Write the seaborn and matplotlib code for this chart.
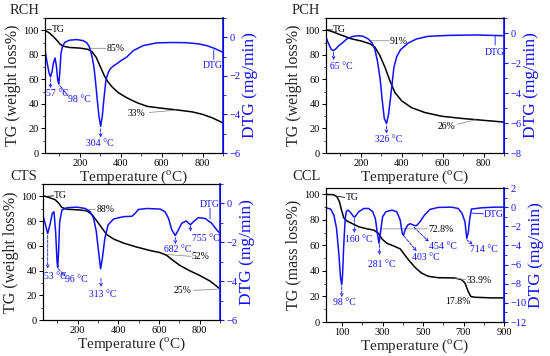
import numpy as np
import pandas as pd
import matplotlib
matplotlib.use('Agg')
import matplotlib.pyplot as plt
import seaborn as sns
from matplotlib.ticker import MultipleLocator, AutoMinorLocator

# ---- data ----
rch_tg_t = [30, 50, 70, 90, 105, 120, 150, 200, 240, 260, 280, 300, 320, 340, 360, 390, 430, 480, 530, 600, 680, 750, 800, 850, 900]
rch_tg = [100, 98, 95, 91.5, 88.5, 87, 86, 85.5, 84.5, 82.5, 78, 70.5, 63, 57.5, 53.5, 49, 45, 41, 38, 36.5, 35, 33.5, 31.5, 28.5, 24.5]
rch_dtg_t = [30, 40, 50, 57, 64, 72, 79, 86, 92, 97, 102, 108, 116, 128, 150, 185, 215, 233, 245, 253, 262, 270, 278, 286,
             294, 302, 310, 318, 328, 340, 350, 365, 380, 400, 429, 462, 510, 576, 650, 720, 780, 820, 860, 900]
rch_dtg = [-0.65, -1.3, -1.85, -2.05, -1.8, -1.3, -1.07, -1.5, -2.2, -2.42, -1.9, -0.85, -0.45, -0.25, -0.15, -0.12, -0.17,
           -0.27, -0.45, -0.7, -1.1, -1.6, -2.4, -3.3, -4.1, -4.62, -4.1, -3.2, -2.2, -1.8, -1.62, -1.48, -1.38, -1.22,
           -1.03, -0.69, -0.43, -0.29, -0.27, -0.28, -0.34, -0.43, -0.58, -0.78]

pch_tg_t = [30, 66, 106, 155, 204, 245, 269, 293, 318, 342, 367, 400, 448, 513, 594, 692, 789, 900]
pch_tg = [100.5, 98.6, 96, 93, 91.2, 89, 86.3, 79.5, 70, 59, 49.3, 42.5, 37, 33, 30, 28.2, 26.8, 25.2]
pch_dtg_t = [30, 41, 55, 65, 77, 92, 106, 131, 163, 188, 212, 237, 256, 269, 282, 295, 305, 315, 326, 336, 349, 362,
             375, 395, 432, 472, 529, 627, 757, 900]
pch_dtg = [-0.27, -0.67, -1.07, -1.18, -1.07, -0.85, -0.71, -0.4, -0.22, -0.18, -0.22, -0.4, -0.67, -1.1, -1.9, -3.1,
           -4.5, -5.7, -6.04, -5.4, -3.9, -2.3, -1.6, -1.1, -0.67, -0.4, -0.22, -0.16, -0.13, -0.18]

cts_tg_t = [30, 58, 90, 107, 123, 148, 213, 246, 270, 295, 319, 344, 377, 426, 491, 557, 606, 638, 671, 704, 753, 802, 851, 900]
cts_tg = [100.5, 99.2, 97.3, 94.5, 91, 89.6, 89, 88.2, 85.5, 80, 74.5, 69, 65.5, 62.2, 59, 56.2, 54.5, 52.3, 48, 44,
          39.7, 35.9, 31.5, 25.2]
cts_dtg_t = [30, 42, 53, 64, 76, 84, 92, 99, 102, 106, 112, 123, 148, 197, 238, 262, 279, 292, 303, 313, 322, 334, 350,
             377, 426, 467, 483, 499, 541, 606, 630, 647, 663, 680, 691, 712, 734, 755, 769, 794, 826, 859, 884, 900]
cts_dtg = [-0.63, -1.1, -1.55, -1.1, -0.5, -0.43, -1.45, -2.98, -3.29, -2.64, -0.94, -0.34, -0.22, -0.19, -0.26, -0.43,
           -0.77, -1.45, -2.47, -3.36, -2.81, -1.79, -1.1, -0.8, -0.68, -0.66, -0.51, -0.31, -0.26, -0.29, -0.43, -0.77,
           -1.36, -1.65, -1.45, -1.02, -0.9, -1.1, -0.94, -0.73, -0.77, -1.02, -1.36, -1.53]

ccl_tg_t = [21, 59, 75, 87, 97, 108, 125, 149, 182, 215, 256, 280, 297, 321, 354, 387, 403, 428, 461, 493, 526, 575,
            657, 690, 707, 723, 736, 756, 838, 900]
ccl_tg = [100, 99.7, 98, 94, 87.6, 81.6, 79, 77.2, 74.6, 73.3, 72, 69.4, 65, 61.7, 59.6, 57.3, 53.9, 48.7, 42.7, 38.3,
          35.8, 34.7, 34.5, 33.2, 30.6, 24, 20, 19.4, 18.9, 18.9]
ccl_dtg_t = [21, 43, 59, 72, 84, 92, 98, 102, 108, 115, 121, 130, 143, 157, 162, 182, 207, 231, 251, 264, 274, 282, 290,
             300, 316, 346, 370, 387, 397, 403, 411, 424, 436, 452, 460, 469, 485, 507, 534, 575, 641, 674, 693, 707,
             716, 723, 731, 739, 789, 854, 900]
ccl_dtg = [-0.07, -0.2, -0.83, -2.2, -5, -7.4, -8.1, -7.06, -3.9, -1.2, -0.42, -0.31, -0.6, -1.0, -1.04, -0.48, -0.14,
           -0.14, -0.48, -1.18, -2.73, -3.77, -2.56, -1.0, -0.48, -0.31, -0.48, -1.35, -2.73, -2.95, -2.39, -1.87, -1.73,
           -1.87, -1.94, -1.9, -1.52, -0.83, -0.24, -0.03, 0, -0.14, -0.66, -1.52, -3.25, -2.73, -1.18, -0.2, -0.07,
           0, 0]

BLUE = '#1010ff'
GREY = '#909090'

sns.set_style('ticks')
plt.rcParams['font.family'] = ['Liberation Serif', 'DejaVu Serif']
plt.rcParams['mathtext.fontset'] = 'custom'
plt.rcParams['mathtext.rm'] = 'Liberation Serif'
plt.rcParams['axes.linewidth'] = 0.8

fig = plt.figure(figsize=(5.5, 3.56), dpi=100)


def panel(rect, t_tg, tg, t_dtg, dtg, xlim, xticks, tg_max, dtg_lim, dtg_step, ylabel):
    ax = fig.add_axes(rect)
    sns.lineplot(x=t_tg, y=tg, ax=ax, color='black', lw=1.1, estimator=None, sort=False)
    ax2 = ax.twinx()
    sns.lineplot(x=t_dtg, y=dtg, ax=ax2, color=BLUE, lw=1.1, estimator=None, sort=False)
    ax.set_xlim(*xlim)
    ax.set_xticks(xticks)
    ax.xaxis.set_minor_locator(AutoMinorLocator(2))
    ax.set_ylim(0, tg_max)
    ax.yaxis.set_major_locator(MultipleLocator(20))
    ax.yaxis.set_minor_locator(MultipleLocator(10))
    ax2.set_ylim(*dtg_lim)
    ax2.yaxis.set_major_locator(MultipleLocator(dtg_step))
    ax2.yaxis.set_minor_locator(MultipleLocator(dtg_step / 2))
    for a in (ax, ax2):
        for s in a.spines.values():
            s.set_color('black')
            s.set_linewidth(0.8)
    ax2.spines['right'].set_color(BLUE)
    ax2.spines['right'].set_linewidth(1.2)
    ax.tick_params(which='major', direction='out', length=3, width=0.7, labelsize=7.5, pad=1.5, colors='black')
    ax.tick_params(which='minor', direction='out', length=1.8, width=0.6)
    ax2.tick_params(which='major', direction='out', length=3, width=0.8, labelsize=7.5, pad=1.5, colors=BLUE)
    ax2.tick_params(which='minor', direction='out', length=1.8, width=0.6, colors=BLUE)
    ax.set_xlabel(r'Temperature ($^{\mathrm{o}}$C)', fontsize=11, labelpad=0)
    ax.set_ylabel(ylabel, fontsize=11.5, labelpad=2)
    ax2.set_ylabel('DTG (mg/min)', fontsize=12.5, color=BLUE, labelpad=1)
    return ax, ax2


def lead(ax, p0, p1, color=GREY):
    ax.annotate('', xy=p1, xytext=p0, arrowprops=dict(arrowstyle='-', color=color, lw=0.6,
                                                      shrinkA=0, shrinkB=0))


def peak(ax, p0, p1):
    ax.annotate('', xy=p1, xytext=p0, arrowprops=dict(arrowstyle='->', color=BLUE, lw=0.6, ls='--',
                                                      mutation_scale=5, shrinkA=0, shrinkB=0))


def lab(ax, x, y, s, color='black', ha='left'):
    ax.text(x, y, s, fontsize=7, color=color, ha=ha, va='center')


# ---- RCH ----
ax, ax2 = panel([0.0818, 0.5702, 0.3236, 0.3792], rch_tg_t, rch_tg, rch_dtg_t, rch_dtg,
                (30, 900), [200, 400, 600, 800], 110, (-6, 1), 2, 'TG (weight loss%)')
lead(ax, (40, 100.5), (62, 100.5), 'black'); lab(ax, 64, 100.8, 'TG')
lead(ax, (235, 85.3), (328, 85.3)); lab(ax, 332, 85, '85%')
lead(ax, (540, 33), (670, 35)); lab(ax, 436, 32.5, '33%')
peak(ax2, (57, -2.15), (57, -2.65)); lab(ax2, 33, -2.9, '57 °C', BLUE)
lead(ax2, (102, -2.5), (140, -3.0), BLUE); lab(ax2, 142, -3.25, '98 °C', BLUE)
peak(ax2, (302, -4.75), (302, -5.2)); lab(ax2, 298, -5.5, '304 °C', BLUE, 'center')
lead(ax2, (855, -0.65), (855, -1.15), BLUE); lab(ax2, 848, -1.45, 'DTG', BLUE, 'center')

# ---- PCH ----
ax, ax2 = panel([0.5927, 0.5702, 0.3236, 0.3792], pch_tg_t, pch_tg, pch_dtg_t, pch_dtg,
                (30, 900), [200, 400, 600, 800], 110, (-8, 1), 2, 'TG (weight loss%)')
lead(ax, (40, 100.3), (62, 100.3), 'black'); lab(ax, 64, 100.6, 'TG')
lead(ax, (250, 91.5), (340, 91.5)); lab(ax, 343, 91.2, '91%')
lead(ax, (673, 23.5), (760, 27)); lab(ax, 577, 22, '26%')
peak(ax2, (67, -1.3), (67, -1.8)); lab(ax2, 50, -2.2, '65 °C', BLUE)
peak(ax2, (326, -6.2), (326, -6.7)); lab(ax2, 338, -7.1, '326 °C', BLUE, 'center')
lead(ax2, (857, -0.2), (857, -0.8), BLUE); lab(ax2, 853, -1.33, 'DTG', BLUE, 'center')

# ---- CTS ----
ax, ax2 = panel([0.0782, 0.1011, 0.3218, 0.382], cts_tg_t, cts_tg, cts_dtg_t, cts_dtg,
                (30, 900), [200, 400, 600, 800], 110, (-6, 1), 2, 'TG (weight loss%)')
lead(ax, (52, 100), (82, 100.5), 'black'); lab(ax, 84, 100.8, 'TG')
lead(ax, (230, 89), (288, 89.6)); lab(ax, 292, 89.6, '88%')
lead(ax, (640, 53), (758, 51.5)); lab(ax, 761, 51.2, '52%')
lead(ax, (770, 24), (893, 25)); lab(ax, 671, 23.8, '25%')
peak(ax2, (53, -1.65), (53, -3.35)); lab(ax2, 33, -3.75, '53 °C', BLUE)
peak(ax2, (104, -3.35), (140, -3.75)); lab(ax2, 140, -3.9, '96 °C', BLUE)
peak(ax2, (315, -3.85), (315, -4.3)); lab(ax2, 323, -4.68, '313 °C', BLUE, 'center')
peak(ax2, (680, -1.75), (680, -2.1)); lab(ax2, 691, -2.35, '682 °C', BLUE, 'center')
peak(ax2, (755, -1.15), (755, -1.45)); lab(ax2, 761, -1.79, '755 °C', BLUE)
lead(ax2, (851, -0.8), (851, -0.25), BLUE); lab(ax2, 848, -0.05, 'DTG', BLUE, 'center')

# ---- CCL ----
ax, ax2 = panel([0.5927, 0.0955, 0.3236, 0.3764], ccl_tg_t, ccl_tg, ccl_dtg_t, ccl_dtg,
                (20, 900), [100, 300, 500, 700, 900], 105, (-12, 2), 2, 'TG (mass loss%)')
lead(ax, (80, 98.5), (112, 97.6), 'black'); lab(ax, 116, 97.4, 'TG')
lead(ax, (290, 73), (522, 73)); lab(ax, 526, 72.8, '72.8%')
lead(ax, (660, 34.5), (712, 33)); lab(ax, 715, 32.4, '33.9%')
lab(ax, 608, 15.8, '17.8%')
peak(ax2, (98, -8.3), (98, -9.4)); lab(ax2, 111, -10, '98 °C', BLUE, 'center')
peak(ax2, (160, -1.2), (160, -2.7)); lab(ax2, 114, -3.43, '160 °C', BLUE)
peak(ax2, (284, -3.9), (284, -5.0)); lab(ax2, 297, -5.95, '281 °C', BLUE, 'center')
peak(ax2, (405, -3.0), (468, -4.6)); lab(ax2, 444, -5.25, '403 °C', BLUE)
peak(ax2, (455, -2.1), (528, -3.6)); lab(ax2, 528, -4.15, '454 °C', BLUE)
peak(ax2, (716, -3.4), (745, -3.9)); lab(ax2, 731, -4.46, '714 °C', BLUE)
lead(ax2, (740, -0.62), (800, -0.7), BLUE); lab(ax2, 802, -0.76, 'DTG', BLUE)

for x, y, s in [(10, 10, 'RCH'), (292, 10, 'PCH'), (10, 177, 'CTS'), (292, 177, 'CCL')]:
    fig.text(x / 550, 1 - y / 356, s, fontsize=10.5, ha='left', va='center')

fig.savefig('out.png', dpi=100)
